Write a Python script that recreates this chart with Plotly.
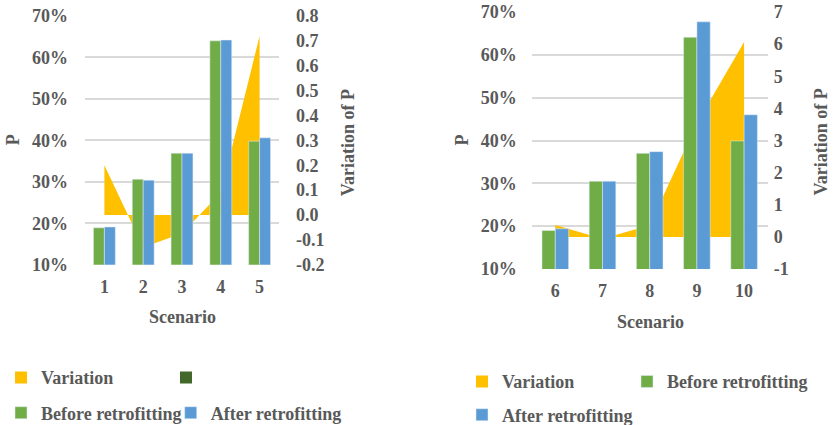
import plotly.graph_objects as go

# ---------------- data ----------------
scen_left = ["1", "2", "3", "4", "5"]
before_left = [0.189, 0.306, 0.369, 0.640, 0.398]
after_left = [0.191, 0.304, 0.369, 0.642, 0.406]
var_left = [0.20, -0.13, -0.075, 0.09, 0.72]

scen_right = ["6", "7", "8", "9", "10"]
before_right = [0.190, 0.305, 0.370, 0.641, 0.399]
after_right = [0.194, 0.305, 0.374, 0.677, 0.460]
var_right = [0.37, -0.06, 0.36, 3.54, 6.07]

p_ticks = [0.1, 0.2, 0.3, 0.4, 0.5, 0.6, 0.7]
var_ticks_left = [-0.2, -0.1, 0.0, 0.1, 0.2, 0.3, 0.4, 0.5, 0.6, 0.7, 0.8]
var_text_left = ["-0.2", "-0.1", "0.0", "0.1", "0.2", "0.3", "0.4", "0.5", "0.6", "0.7", "0.8"]
var_ticks_right = [-1, 0, 1, 2, 3, 4, 5, 6, 7]
var_text_right = ["-1", "0", "1", "2", "3", "4", "5", "6", "7"]

YELLOW = "#FFC000"
GREEN = "#70AD47"
BLUE = "#5B9BD5"
DKGREEN = "#43682B"
TXT = "#595959"
GRID = "#D9D9D9"
FONT = dict(family="Liberation Serif", size=18, color=TXT, weight="bold")

W, H = 833, 425

fig = go.Figure()


def swatch(name, color, xa, ya, legend):
    # legend-only square swatch (no data drawn)
    return go.Scatter(x=[None], y=[None], mode="markers", name=name,
                      marker=dict(symbol="square", size=12, color=color),
                      xaxis=xa, yaxis=ya, legend=legend, hoverinfo="skip")


# ---- left chart ----
fig.add_trace(go.Scatter(x=scen_left, y=var_left, mode="none", fill="tozeroy",
                         fillcolor=YELLOW, xaxis="x", yaxis="y", showlegend=False,
                         name="Variation"))
fig.add_trace(go.Bar(x=scen_left, y=before_left, marker_color=GREEN, name="Before retrofitting",
                     xaxis="x", yaxis="y2", legend="legend3"))
fig.add_trace(go.Bar(x=scen_left, y=after_left, marker_color=BLUE, name="After retrofitting",
                     xaxis="x", yaxis="y2", legend="legend4"))
fig.add_trace(swatch("Variation", YELLOW, "x", "y", "legend"))
fig.add_trace(swatch(" ", DKGREEN, "x", "y", "legend2"))

# ---- right chart ----
fig.add_trace(go.Scatter(x=scen_right, y=var_right, mode="none", fill="tozeroy",
                         fillcolor=YELLOW, xaxis="x2", yaxis="y3", showlegend=False,
                         name="Variation"))
fig.add_trace(swatch("Variation", YELLOW, "x2", "y3", "legend5"))
fig.add_trace(go.Bar(x=scen_right, y=before_right, marker_color=GREEN, name="Before retrofitting",
                     xaxis="x2", yaxis="y4", legend="legend6"))
fig.add_trace(go.Bar(x=scen_right, y=after_right, marker_color=BLUE, name="After retrofitting",
                     xaxis="x2", yaxis="y4", legend="legend7"))

ldom = [85 / W, 279 / W]
rdom = [531.7 / W, 767.7 / W]
lydom = [1 - 264.7 / H, 1 - 16 / H]
rydom = [1 - 269 / H, 1 - 12 / H]

xcommon = dict(type="category", showgrid=False, zeroline=False, showline=False,
               ticks="", tickfont=FONT, ticklabelstandoff=9, fixedrange=True,
               automargin=False)
pcommon = dict(range=[0.1, 0.7], tickvals=p_ticks, tickformat=".0%", showgrid=True,
               gridcolor=GRID, gridwidth=1.5, zeroline=False, showline=False, ticks="",
               tickfont=FONT, side="left", automargin=False, fixedrange=True)
vcommon = dict(side="right", showgrid=False, zeroline=False, showline=False, ticks="",
               tickfont=FONT, automargin=False, fixedrange=True)


def leg(sq_center_x, y_center):
    return dict(orientation="h", x=(sq_center_x - 26) / W, y=1 - y_center / H,
                xanchor="left", yanchor="middle", font=FONT,
                bgcolor="rgba(0,0,0,0)", borderwidth=0)


fig.update_layout(
    width=W, height=H,
    margin=dict(l=0, r=0, t=0, b=0, autoexpand=False),
    paper_bgcolor="white", plot_bgcolor="white",
    barmode="group", bargap=0.436, bargroupgap=0,
    font=FONT,
    xaxis=dict(domain=ldom, anchor="y", **xcommon),
    yaxis=dict(domain=lydom, anchor="x", range=[-0.2, 0.8],
               tickvals=var_ticks_left, ticktext=var_text_left,
               ticklabelstandoff=16, **vcommon),
    yaxis2=dict(overlaying="y", anchor="x", ticklabelstandoff=16, **pcommon),
    xaxis2=dict(domain=rdom, anchor="y3", **xcommon),
    yaxis3=dict(domain=rydom, anchor="x2", range=[-1, 7],
                tickvals=var_ticks_right, ticktext=var_text_right,
                ticklabelstandoff=5, **vcommon),
    yaxis4=dict(overlaying="y3", anchor="x2", ticklabelstandoff=14, **pcommon),
    legend=leg(27, 377.7),
    legend2=leg(192, 377.7),
    legend3=leg(27, 413),
    legend4=leg(196.7, 413),
    legend5=leg(488, 381.7),
    legend6=leg(653, 381.7),
    legend7=leg(488, 415),
    showlegend=True,
)

ann = dict(xref="paper", yref="paper", showarrow=False, font=FONT,
           xanchor="center", yanchor="middle")
fig.add_annotation(text="P", x=13.3 / W, y=1 - 140 / H, textangle=-90, **ann)
fig.add_annotation(text="Variation of P", x=348.3 / W, y=1 - 143 / H, textangle=-90, **ann)
fig.add_annotation(text="Scenario", x=182 / W, y=1 - 316.7 / H, **ann)
fig.add_annotation(text="P", x=461.5 / W, y=1 - 140 / H, textangle=-90, **ann)
fig.add_annotation(text="Variation of P", x=821 / W, y=1 - 142.5 / H, textangle=-90, **ann)
fig.add_annotation(text="Scenario", x=650 / W, y=1 - 322 / H, **ann)

fig.write_html("out.html", config={"displayModeBar": False},
               post_script="document.body.style.margin='0px';")
